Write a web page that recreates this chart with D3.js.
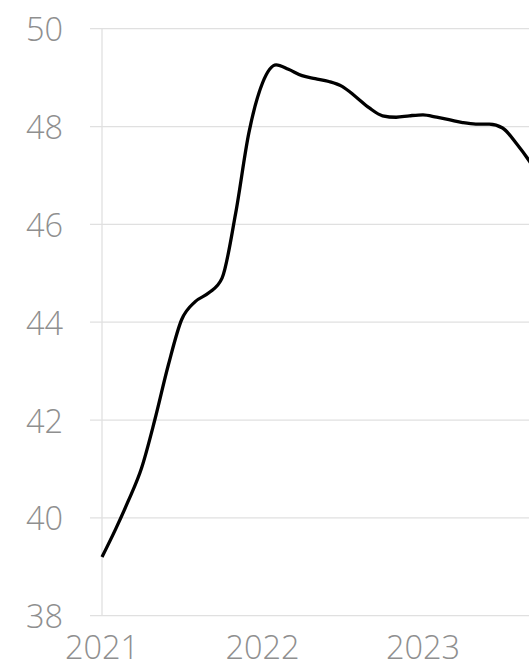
<!DOCTYPE html>
<html>
<head>
<meta charset="utf-8">
<script src="https://cdn.jsdelivr.net/npm/d3@7"></script>
<style>
  html, body { margin: 0; padding: 0; background: #fff; overflow: hidden; }
  svg { display: block; }
  .lbl { font-family: "Open Sans", "Noto Sans", sans-serif; font-weight: 300; font-size: 32.5px; fill: #8f8f8f; }
</style>
</head>
<body>
<script>
// Monthly values starting January 2021
const startYear = 2021;
const values = [
  39.2, 39.77, 40.33, 41.02, 42.0, 43.13, 44.05, 44.42, 44.6, 44.9, 46.23, 47.87,
  48.89, 49.26, 49.17, 49.04, 48.98, 48.92, 48.82, 48.61, 48.38, 48.22, 48.19, 48.22,
  48.24, 48.19, 48.14, 48.08, 48.05, 48.05, 47.97, 47.66, 47.28, 46.85
];
const yTicks = [38, 40, 42, 44, 46, 48, 50];
const xTickYears = [2021, 2022, 2023];

const W = 529, H = 663;
const data = values.map((v, i) => ({ date: new Date(startYear, i, 1), value: v }));

const svg = d3.select("body").append("svg").attr("width", W).attr("height", H);

const x = d3.scaleTime()
  .domain([new Date(2021, 0, 1), new Date(2024, 0, 1)])
  .range([102, 583.5]);
const y = d3.scaleLinear().domain([38, 50]).range([615.7, 28.7]);

// horizontal gridlines with left tick stubs
svg.append("g").selectAll("line").data(yTicks).join("line")
  .attr("x1", 90).attr("x2", W + 10)
  .attr("y1", d => y(d)).attr("y2", d => y(d))
  .attr("stroke", "#e0e0e0").attr("stroke-width", 1.3);

// vertical axis line
svg.append("line")
  .attr("x1", x(new Date(2021, 0, 1))).attr("x2", x(new Date(2021, 0, 1)))
  .attr("y1", y(50)).attr("y2", y(38))
  .attr("stroke", "#e0e0e0").attr("stroke-width", 1.3);

// y labels
svg.append("g").selectAll("text").data(yTicks).join("text")
  .attr("class", "lbl")
  .attr("x", 63).attr("y", d => y(d))
  .attr("text-anchor", "end")
  .attr("dominant-baseline", "central")
  .text(d => d);

// x labels
svg.append("g").selectAll("text").data(xTickYears).join("text")
  .attr("class", "lbl")
  .attr("x", d => x(new Date(d, 0, 1)))
  .attr("y", 659)
  .attr("text-anchor", "middle")
  .text(d => d);

// line
const line = d3.line()
  .x(d => x(d.date))
  .y(d => y(d.value))
  .curve(d3.curveMonotoneX);

svg.append("path").datum(data)
  .attr("d", line)
  .attr("fill", "none")
  .attr("stroke", "#000")
  .attr("stroke-width", 3.3)
  .attr("stroke-linejoin", "round")
  .attr("stroke-linecap", "butt");
</script>
</body>
</html>
